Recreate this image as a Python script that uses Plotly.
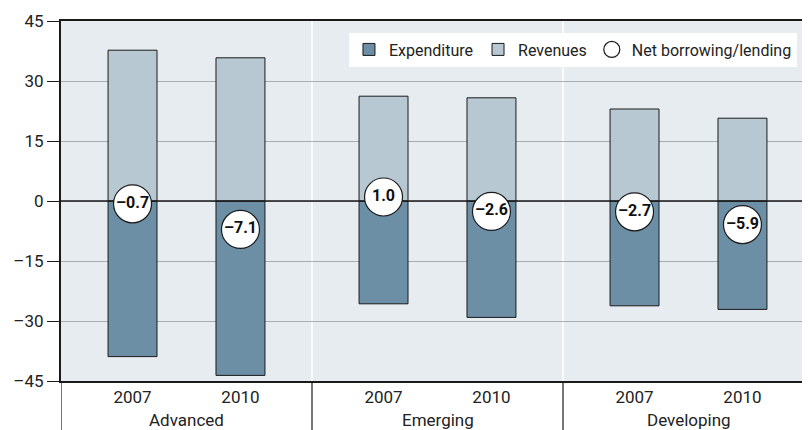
import plotly.graph_objects as go

groups = ["Advanced", "Emerging", "Developing"]
years = ["2007", "2010"]
revenues = [37.7, 35.8, 26.2, 25.8, 23.0, 20.7]
expenditure = [-38.9, -43.6, -25.7, -29.1, -26.2, -27.1]
net = [-0.7, -7.1, 1.0, -2.6, -2.7, -5.9]
net_labels = ["–0.7", "–7.1", "1.0", "–2.6", "–2.7", "–5.9"]
y_ticks = [-45, -30, -15, 0, 15, 30, 45]
y_tick_text = ["–45", "–30", "–15", "0", "15", "30", "45"]

FONT = "Roboto"
offsets = [0.285, 0.715]
xpos = [g + o for g in range(len(groups)) for o in offsets]
xlabels = [y for _ in groups for y in years]

C_EXP = "#6D8FA6"
C_REV = "#B7C8D2"
BG = "#E7ECF0"

fig = go.Figure()
fig.add_trace(go.Bar(x=xpos, y=expenditure, name="Expenditure", width=0.195,
                     marker=dict(color=C_EXP, line=dict(color="#1a1a1a", width=1))))
fig.add_trace(go.Bar(x=xpos, y=revenues, name="Revenues", width=0.195,
                     marker=dict(color=C_REV, line=dict(color="#1a1a1a", width=1))))
fig.add_trace(go.Scatter(x=[0, 3.1], y=[0, 0], mode="lines", line=dict(color="#1a1a1a", width=1.5),
                         showlegend=False, hoverinfo="skip"))
fig.add_trace(go.Scatter(x=xpos, y=net, name="Net borrowing/lending", mode="markers+text",
                         text=net_labels, textposition="middle center",
                         textfont=dict(family=FONT, size=16, color="#111", weight="bold"),
                         marker=dict(size=38, color="white", line=dict(color="#1a1a1a", width=1.2))))

shapes = []
for g in range(1, len(groups)):
    shapes.append(dict(type="line", xref="x", yref="paper", x0=g, x1=g, y0=0, y1=1,
                       line=dict(color="white", width=1.5), layer="below"))
for g in range(0, len(groups) + 1):
    shapes.append(dict(type="line", xref="x", yref="paper", x0=g, x1=g, y0=0, y1=-0.2,
                       line=dict(color="#1a1a1a", width=1.2)))

annotations = []
for i, gname in enumerate(groups):
    annotations.append(dict(x=i + 0.5, y=-0.108, xref="x", yref="paper", text=gname,
                            showarrow=False, yanchor="middle",
                            font=dict(family=FONT, size=17, color="#222")))

fig.update_layout(
    width=810, height=430,
    margin=dict(l=53, r=0, t=12.5, b=56.5),
    paper_bgcolor="white", plot_bgcolor=BG,
    barmode="relative",
    font=dict(family=FONT, size=17, color="#222"),
    showlegend=True,
    legend=dict(orientation="h", x=0.3804, y=0.968, xanchor="left", yanchor="top",
                bgcolor="white", font=dict(family=FONT, size=16, color="#222"),
                itemsizing="trace", traceorder="normal"),
    shapes=shapes, annotations=annotations,
    xaxis=dict(range=[0, 757 / 251], tickvals=xpos, ticktext=xlabels, ticks="",
               showgrid=False, zeroline=False, showline=True, mirror=True,
               linecolor="#1a1a1a", linewidth=2, tickfont=dict(size=17, color="#222")),
    yaxis=dict(range=[-45, 45], tickvals=y_ticks, ticktext=y_tick_text,
               ticks="outside", ticklen=12, tickcolor="#1a1a1a", tickwidth=1,
               showgrid=True, gridcolor="#A8ADB1", gridwidth=1, zeroline=False,
               showline=True, linecolor="#1a1a1a", linewidth=2,
               tickfont=dict(size=17, color="#222")),
)
fig.write_html("out.html")
